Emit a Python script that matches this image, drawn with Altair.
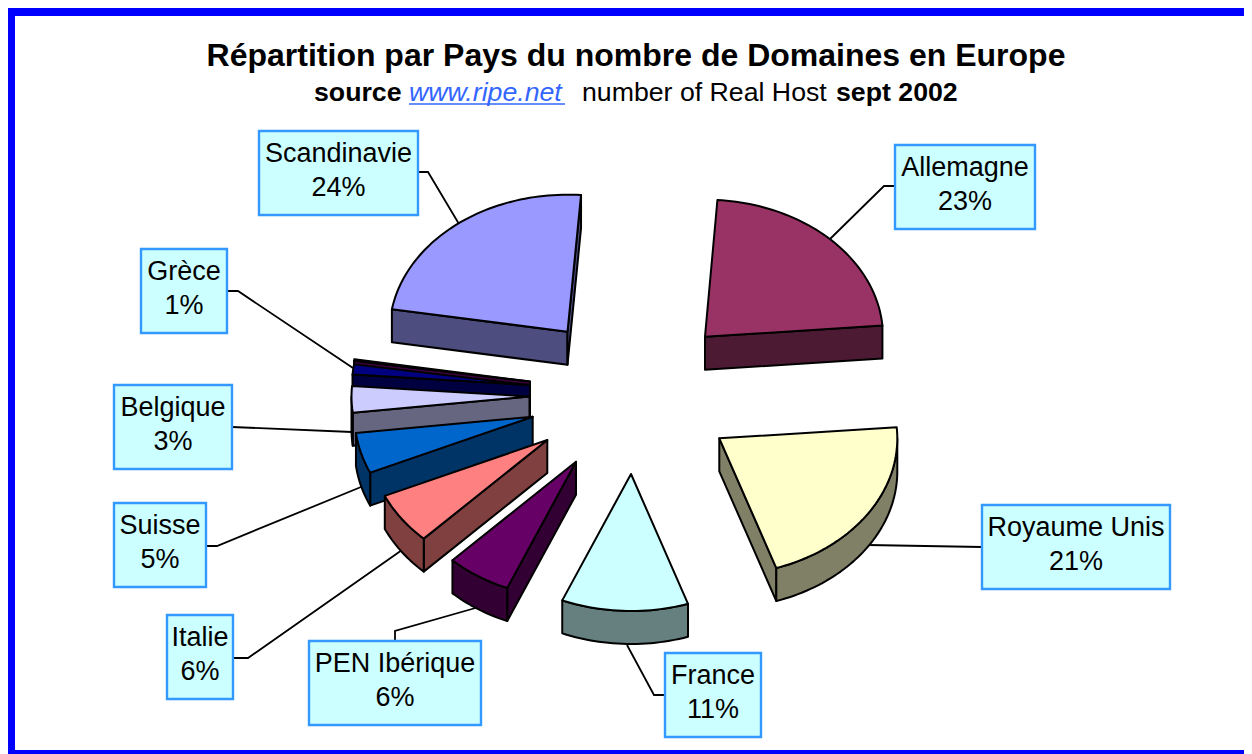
import math
import altair as alt

# ---- data ----
names = ["Allemagne", "Royaume Unis", "France", "PEN Ibérique", "Italie", "Suisse", "Belgique", "Grèce", "", "Scandinavie"]
shares = [22.6, 21.1, 11.5, 5.9, 6.1, 4.8, 3.1, 1.2, 0.2, 23.6]
labels = ["23%", "21%", "11%", "6%", "6%", "5%", "3%", "1%", "", "24%"]
tops = ["#993366", "#FFFFCC", "#CCFFFF", "#660066", "#FF8080", "#0066CC", "#CCCCFF", "#000080", "#800080", "#9999FF"]
walls = ["#4D1A33", "#808066", "#668080", "#330033", "#804040", "#003366", "#666680", "#000040", "#400040", "#4D4D80"]
apex_x = [705, 719.3, 631, 576, 547.3, 532.7, 529.5, 530, 530, 567.5]
apex_y = [336.7, 438.3, 474, 461.7, 440, 416.7, 396.5, 385, 381.5, 331.7]
draw_order = [9, 0, 8, 7, 6, 5, 4, 3, 1, 2]
START, A, B, DEPTH = 4.0, 178.0, 137.0, 33.0

box_x0 = {"Scandinavie": 259, "Allemagne": 895, "Royaume Unis": 982, "France": 665, "PEN Ibérique": 309, "Italie": 167, "Suisse": 114, "Belgique": 114, "Grèce": 141}
box_x1 = {"Scandinavie": 418, "Allemagne": 1035, "Royaume Unis": 1170, "France": 761, "PEN Ibérique": 481, "Italie": 233, "Suisse": 206, "Belgique": 232, "Grèce": 227}
box_y0 = {"Scandinavie": 131, "Allemagne": 145, "Royaume Unis": 505, "France": 653, "PEN Ibérique": 641, "Italie": 615, "Suisse": 503, "Belgique": 385, "Grèce": 249}
leaders = {
    "Scandinavie": [(418, 172), (428, 172), (459, 224)],
    "Allemagne": [(895, 186), (884, 186), (829, 240)],
    "Royaume Unis": [(982, 547), (868, 545)],
    "France": [(664, 695), (654, 695), (627, 645)],
    "PEN Ibérique": [(395, 641), (395, 631), (479, 607)],
    "Italie": [(233, 658), (248, 658), (402, 550)],
    "Suisse": [(206, 546), (217, 546), (361, 487)],
    "Belgique": [(232, 427), (352, 432)],
    "Grèce": [(227, 291), (238, 291), (353, 368)],
}
BOX_H = 84
FRAME = "#0000FF"
RIGHT = 1244


def poly(points, fill):
    pts = [list(p) for p in points]
    pts.append(pts[0])
    return {"type": "Feature", "properties": {"fill": fill},
            "geometry": {"type": "Polygon", "coordinates": [pts]}}


def rim(i, t):
    r = math.radians(t)
    return (apex_x[i] + A * math.sin(r), apex_y[i] - B * math.cos(r))


def arc(i, t0, t1):
    n = max(2, int((t1 - t0) / 1.5) + 1)
    return [rim(i, t0 + (t1 - t0) * k / (n - 1)) for k in range(n)]


def down(points):
    return [(x, y + DEPTH) for x, y in points]


def cut_face(i, t, mid):
    ax, ay = apex_x[i], apex_y[i]
    px, py = rim(i, t)
    mx, my = rim(i, mid)
    nx, ny = -(py - ay), px - ax
    if nx * (mx - ax) + ny * (my - ay) > 0:
        ny = -ny
    if ny <= 0:
        return None
    return poly([(ax, ay), (px, py), (px, py + DEPTH), (ax, ay + DEPTH)], walls[i])


angles = []
acc = START
for s in shares:
    angles.append((acc, acc + s * 3.6))
    acc += s * 3.6

slices = []
for i in draw_order:
    t0, t1 = angles[i]
    mid = (t0 + t1) / 2
    for t in (t0, t1):
        f = cut_face(i, t, mid)
        if f:
            slices.append(f)
    lo, hi = max(t0, 90), min(t1, 270)
    if hi > lo:
        a = arc(i, lo, hi)
        slices.append(poly(a + down(a)[::-1], walls[i]))
    slices.append(poly([(apex_x[i], apex_y[i])] + arc(i, t0, t1), tops[i]))

leader_f = [{"type": "Feature", "properties": {},
             "geometry": {"type": "LineString", "coordinates": [list(p) for p in v]}}
            for v in leaders.values()]
box_f = []
text_rows = []
for n, l in zip(names, labels):
    if not n:
        continue
    x0, x1, y0 = box_x0[n], box_x1[n], box_y0[n]
    box_f.append(poly([(x0, y0), (x1, y0), (x1, y0 + BOX_H), (x0, y0 + BOX_H)], "#CCFFFF"))
    text_rows.append({"x": (x0 + x1) / 2, "y": y0 + 23, "t": n})
    text_rows.append({"x": (x0 + x1) / 2, "y": y0 + 57, "t": l})

frame_f = [poly([(8, 8), (RIGHT, 8), (RIGHT, 16), (8, 16)], FRAME),
           poly([(8, 8), (15, 8), (15, 754), (8, 754)], FRAME),
           poly([(8, 750), (RIGHT, 750), (RIGHT, 754), (8, 754)], FRAME)]

proj = dict(type="identity")


def shapes(features, **kw):
    return alt.Chart(alt.InlineData(values=features)).mark_geoshape(**kw).project(**proj)


def filled(features, **kw):
    return shapes(features, **kw).encode(fill=alt.Fill("properties.fill:N", scale=None))


FONT = "Liberation Sans"
layers = [
    filled(frame_f),
    shapes(leader_f, filled=False, stroke="black", strokeWidth=1.8),
    filled(slices, stroke="black", strokeWidth=2, strokeJoin="round"),
    filled(box_f, stroke="#3399FF", strokeWidth=2.4),
    alt.Chart(alt.InlineData(values=text_rows)).mark_text(font=FONT, fontSize=27, color="black", align="center", baseline="middle")
       .encode(longitude="x:Q", latitude="y:Q", text="t:N").project(**proj),
]


def line(txt, x, y, size, color="black", weight="normal", style="normal", align="left"):
    return alt.Chart(alt.InlineData(values=[{"x": x, "y": y, "t": txt}])).mark_text(
        font=FONT, fontSize=size, color=color, fontWeight=weight, fontStyle=style, align=align, baseline="alphabetic"
    ).encode(longitude="x:Q", latitude="y:Q", text="t:N").project(**proj)


layers += [
    line("Répartition par Pays du nombre de Domaines en Europe", 636, 66, 32, weight="bold", align="center"),
    line("source", 314, 101, 26.7, weight="bold"),
    line("www.ripe.net", 409, 101, 26.7, color="#3366FF", style="italic"),
    shapes([{"type": "Feature", "properties": {}, "geometry": {"type": "LineString", "coordinates": [[409, 104], [565, 104]]}}],
           filled=False, stroke="#3366FF", strokeWidth=1.6),
    line("number of Real Host", 582, 101, 26.7),
    line("sept 2002", 836, 101, 26.7, weight="bold"),
]

chart = alt.layer(*layers).properties(
    width=1236, height=746, padding=0, autosize=alt.AutoSizeParams(type="none")
).configure_view(stroke=None)

chart.save("out.html", embed_options={"renderer": "svg", "actions": False})
